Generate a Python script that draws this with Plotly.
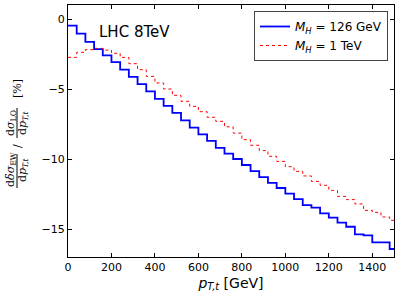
import plotly.graph_objects as go

# ---- data ----
bin_width = 40
bin_low = list(range(0, 1481, 40))  # left edges of the 40 GeV bins
mh126 = [-0.47, -1.04, -1.63, -2.15, -2.60, -3.08, -3.62, -4.13, -4.65, -5.17,
         -5.70, -6.20, -6.71, -7.24, -7.76, -8.24, -8.71, -9.21, -9.62, -10.00,
         -10.43, -10.86, -11.29, -11.71, -12.07, -12.48, -12.86, -13.29, -13.48, -13.88,
         -14.19, -14.55, -14.84, -15.38, -15.45, -15.95, -15.95, -16.43]
mh1tev = [-2.74, -2.38, -2.19, -2.10, -2.22, -2.45, -2.74, -3.19, -3.62, -4.10,
          -4.57, -5.00, -5.45, -5.88, -6.24, -6.62, -7.02, -7.31, -7.70, -8.15,
          -8.62, -9.02, -9.40, -9.81, -10.17, -10.55, -10.88, -11.21, -11.60, -11.88,
          -12.24, -12.67, -12.90, -13.21, -13.67, -13.81, -14.14, -14.38]
x_ticks = [0, 200, 400, 600, 800, 1000, 1200, 1400]
y_ticks = [0, -5, -10, -15]
series_names = ["<i>M</i><sub><i>H</i></sub> = 126 GeV", "<i>M</i><sub><i>H</i></sub> = 1 TeV"]

W, H = 399, 299
ML, MR, MT, MB = 68, 5, 5, 42
PW, PH = W - ML - MR, H - MT - MB


def px(xp):
    return (xp - ML) / PW


def py(yp):
    return (H - MB - yp) / PH


def steps(vals):
    xs = bin_low + [bin_low[-1] + bin_width]
    ys = vals + [vals[-1]]
    return xs, ys


fig = go.Figure()
x1, y1 = steps(mh126)
fig.add_trace(go.Scatter(x=x1, y=y1, mode="lines", line_shape="hv",
                         line=dict(color="#0000ff", width=1.8), name=series_names[0]))
x2, y2 = steps(mh1tev)
fig.add_trace(go.Scatter(x=x2, y=y2, mode="lines", line_shape="hv",
                         line=dict(color="#ff0000", width=1, dash="dot"), name=series_names[1]))

axis_common = dict(showline=True, linecolor="black", linewidth=1, mirror="allticks",
                   ticks="inside", ticklen=4, tickcolor="black", showgrid=False,
                   zeroline=False, automargin=False,
                   tickfont=dict(family="DejaVu Sans", size=11, color="black"))
fig.update_xaxes(range=[0, 1500], tickvals=x_ticks, **axis_common,
                 title=dict(text="<i>p</i><sub><i>T,t</i></sub> [GeV]",
                            font=dict(family="DejaVu Sans", size=14, color="black"),
                            standoff=4))
fig.update_yaxes(range=[-17, 1], tickvals=y_ticks, **axis_common)

ann = []
ann.append(dict(text="LHC 8TeV", x=px(97), y=py(32), xref="paper", yref="paper",
                xanchor="left", yanchor="middle", showarrow=False,
                font=dict(family="DejaVu Sans", size=15, color="black")))
mfont = dict(family="DejaVu Serif", size=11, color="black")
ytitle = [("d<i>δσ</i><sub>EW</sub>", 11, 170), ("d<i>p</i><sub><i>T,t</i></sub>", 23, 170),
          ("/", 17, 146),
          ("d<i>σ</i><sub>LO</sub>", 11, 123), ("d<i>p</i><sub><i>T,t</i></sub>", 23, 123),
          ("[%]", 17, 88)]
for t, xx, yy in ytitle:
    ann.append(dict(text=t, x=px(xx), y=py(yy), xref="paper", yref="paper",
                    xanchor="center", yanchor="middle", showarrow=False,
                    textangle=-90, font=mfont))
fig.update_layout(annotations=ann)
for y0, y1_ in [(154, 188), (108, 138)]:
    fig.add_shape(type="line", xref="paper", yref="paper", x0=px(17), x1=px(17),
                  y0=py(y0), y1=py(y1_), line=dict(color="black", width=1))

fig.update_layout(
    width=W, height=H, margin=dict(l=ML, r=MR, t=MT, b=MB, autoexpand=False),
    plot_bgcolor="white", paper_bgcolor="white",
    legend=dict(x=px(388), y=py(11), xanchor="right", yanchor="top",
                bordercolor="#444444", borderwidth=1, bgcolor="white",
                font=dict(family="DejaVu Sans", size=12, color="black"),
                tracegroupgap=0, itemwidth=30),
    showlegend=True,
)
fig.write_html("out.html", config={"displayModeBar": False},
               post_script="document.body.style.margin='0';")
